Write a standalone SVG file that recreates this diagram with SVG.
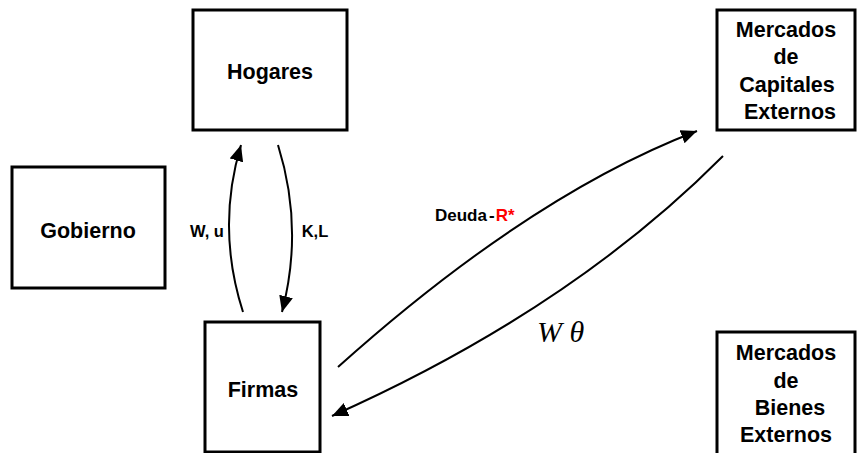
<svg xmlns="http://www.w3.org/2000/svg" width="857" height="453" viewBox="0 0 857 453">
<defs>
<style>
.box{fill:#fff;stroke:#000;stroke-width:3}
.t{font-family:"Liberation Sans",Arial,sans-serif;font-weight:bold;font-size:21.5px;fill:#000;text-anchor:middle}
.lbl{font-family:"Liberation Sans",Arial,sans-serif;font-weight:bold;font-size:16.5px;fill:#000}
.ln{fill:none;stroke:#000;stroke-width:2}
.math{font-family:"Liberation Serif","Times New Roman",serif;font-style:italic;font-size:30px;fill:#000}
</style>
<marker id="ah" markerUnits="userSpaceOnUse" markerWidth="18" markerHeight="14" refX="16" refY="7" orient="auto">
<path d="M0,0 L16,7 L0,14 Z" fill="#000"/>
</marker>
</defs>
<g id="hogares"><rect class="box" x="193" y="10" width="154" height="120"/><text class="t" x="270" y="79">Hogares</text></g>
<g id="gobierno"><rect class="box" x="12" y="167" width="153" height="121"/><text class="t" x="88" y="238">Gobierno</text></g>
<g id="firmas"><rect class="box" x="205" y="322" width="115" height="130"/><text class="t" x="263" y="397">Firmas</text></g>
<g id="capitales"><rect class="box" x="717" y="10" width="138" height="120"/>
<text class="t"><tspan x="786" y="37">Mercados</tspan><tspan x="786" y="64">de</tspan><tspan x="787" y="92">Capitales</tspan><tspan x="790" y="119">Externos</tspan></text></g>
<g id="bienes"><rect class="box" x="717" y="332" width="138" height="130"/>
<text class="t"><tspan x="786" y="360">Mercados</tspan><tspan x="786" y="388">de</tspan><tspan x="790" y="415">Bienes</tspan><tspan x="786" y="442">Externos</tspan></text></g>
<g id="connectors">
<path class="ln" d="M243,312 Q216,228 241,145" marker-end="url(#ah)"/>
<path class="ln" d="M278,145 Q304,228 282,312" marker-end="url(#ah)"/>
<path class="ln" d="M338,367 Q530,195 697,131" marker-end="url(#ah)"/>
<path class="ln" d="M723,156 Q570,310 332,416" marker-end="url(#ah)"/>
<text class="lbl" x="207" y="237" text-anchor="middle">W, u</text>
<text class="lbl" x="315" y="237" text-anchor="middle">K,L</text>
<text class="lbl" x="435" y="221" style="font-size:17px">Deuda<tspan dx="2">-</tspan><tspan dx="1" fill="#ff0000">R*</tspan></text>
<text class="math" x="537" y="342">W θ</text>
</g>
</svg>
